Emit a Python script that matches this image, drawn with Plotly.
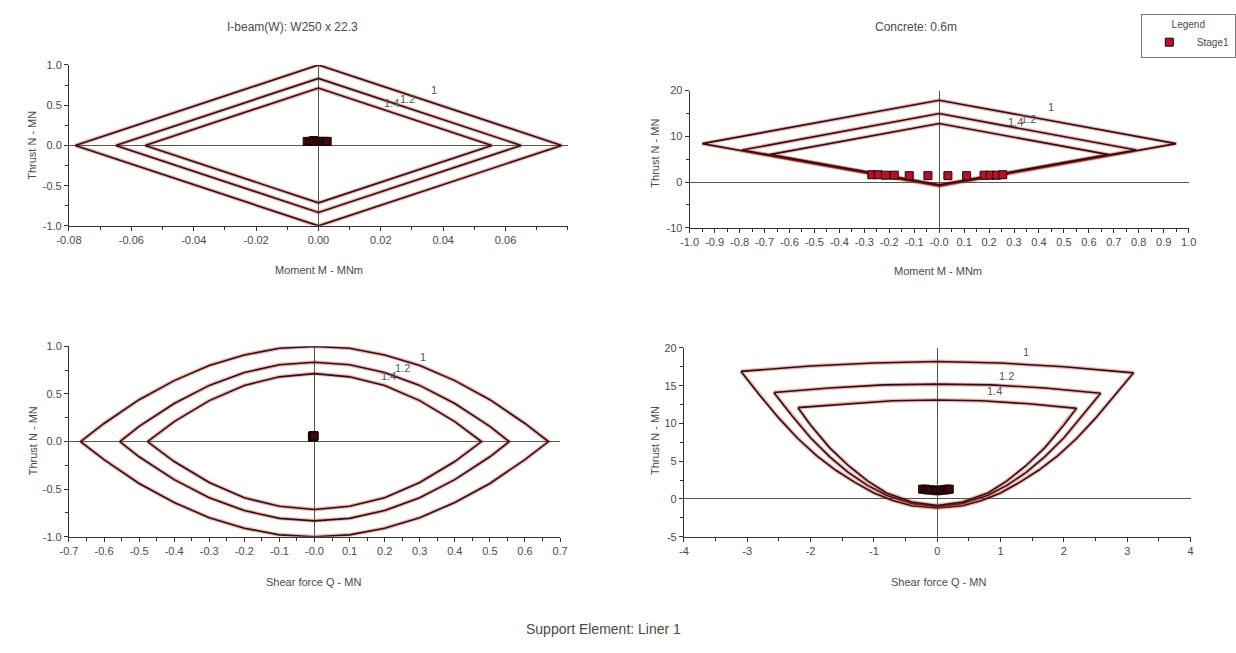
import plotly.graph_objects as go

# ---------------- data ----------------
# Top-left: I-beam, Moment vs Thrust (FS = 1, 1.2, 1.4)
tl_M_1 = [-0.078, 0.0, 0.078, 0.0, -0.078]
tl_N_1 = [0.0, 1.0, 0.0, -1.0, 0.0]
tl_M_12 = [-0.065, 0.0, 0.065, 0.0, -0.065]
tl_N_12 = [0.0, 0.833, 0.0, -0.833, 0.0]
tl_M_14 = [-0.0556, 0.0, 0.0556, 0.0, -0.0556]
tl_N_14 = [0.0, 0.714, 0.0, -0.714, 0.0]

# Top-right: Concrete, Moment vs Thrust
tr_M_1 = [-0.95, 0.0, 0.95, 0.0, -0.95]
tr_N_1 = [8.4, 17.9, 8.4, -0.86, 8.4]
tr_M_12 = [-0.79, 0.0, 0.79, 0.0, -0.79]
tr_N_12 = [7.0, 15.0, 7.0, -0.72, 7.0]
tr_M_14 = [-0.68, 0.0, 0.68, 0.0, -0.68]
tr_N_14 = [6.0, 12.8, 6.0, -0.61, 6.0]

# Bottom-left: I-beam, Shear vs Thrust
bl_Q_1 = [-0.667, -0.6, -0.5, -0.4, -0.3, -0.2, -0.1, 0.0, 0.1, 0.2, 0.3, 0.4, 0.5, 0.6, 0.667,
          0.6, 0.5, 0.4, 0.3, 0.2, 0.1, 0.0, -0.1, -0.2, -0.3, -0.4, -0.5, -0.6, -0.667]
bl_N_1 = [0.0, 0.19, 0.44, 0.64, 0.80, 0.91, 0.98, 1.0, 0.98, 0.91, 0.80, 0.64, 0.44, 0.19, 0.0,
          -0.19, -0.44, -0.64, -0.80, -0.91, -0.98, -1.0, -0.98, -0.91, -0.80, -0.64, -0.44, -0.19, 0.0]
bl_Q_12 = [-0.555, -0.5, -0.4, -0.3, -0.2, -0.1, 0.0, 0.1, 0.2, 0.3, 0.4, 0.5, 0.555,
           0.5, 0.4, 0.3, 0.2, 0.1, 0.0, -0.1, -0.2, -0.3, -0.4, -0.5, -0.555]
bl_N_12 = [0.0, 0.16, 0.40, 0.59, 0.725, 0.807, 0.833, 0.807, 0.725, 0.59, 0.40, 0.16, 0.0,
           -0.16, -0.40, -0.59, -0.725, -0.807, -0.833, -0.807, -0.725, -0.59, -0.40, -0.16, 0.0]
bl_Q_14 = [-0.476, -0.4, -0.3, -0.2, -0.1, 0.0, 0.1, 0.2, 0.3, 0.4, 0.476,
           0.4, 0.3, 0.2, 0.1, 0.0, -0.1, -0.2, -0.3, -0.4, -0.476]
bl_N_14 = [0.0, 0.21, 0.43, 0.59, 0.68, 0.714, 0.68, 0.59, 0.43, 0.21, 0.0,
           -0.21, -0.43, -0.59, -0.68, -0.714, -0.68, -0.59, -0.43, -0.21, 0.0]

# Bottom-right: Concrete, Shear vs Thrust
br_Q_1 = [-3.10, -2.80, -2.50, -2.20, -1.90, -1.60, -1.30, -1.00, -0.70, -0.40, 0.00, 0.40, 0.70,
          1.00, 1.30, 1.60, 1.90, 2.20, 2.50, 2.80, 3.10, 2.00, 1.00, 0.00, -1.00, -2.00, -3.10]
br_N_1 = [16.9, 13.7, 10.7, 8.0, 5.7, 3.8, 2.2, 0.8, -0.2, -0.9, -1.2, -0.9, -0.2,
          0.8, 2.2, 3.8, 5.7, 8.0, 10.7, 13.7, 16.7, 17.5, 18.0, 18.2, 18.0, 17.6, 16.9]
br_Q_12 = [-2.58, -2.30, -2.00, -1.70, -1.40, -1.10, -0.80, -0.40, 0.00, 0.40, 0.80, 1.10,
           1.40, 1.70, 2.00, 2.30, 2.58, 1.70, 0.85, 0.00, -0.85, -1.70, -2.58]
br_N_12 = [14.1, 11.1, 8.1, 5.6, 3.5, 1.8, 0.5, -0.6, -1.0, -0.6, 0.5, 1.8,
           3.5, 5.6, 8.1, 11.1, 14.0, 14.7, 15.1, 15.2, 15.1, 14.7, 14.1]
br_Q_14 = [-2.20, -2.00, -1.70, -1.40, -1.10, -0.80, -0.40, 0.00, 0.40, 0.80, 1.10, 1.40,
           1.70, 2.00, 2.20, 1.45, 0.70, 0.00, -0.70, -1.45, -2.20]
br_N_14 = [12.1, 9.8, 6.8, 4.4, 2.4, 0.8, -0.4, -0.86, -0.4, 0.8, 2.4, 4.4,
           6.8, 9.8, 12.0, 12.6, 13.0, 13.1, 13.0, 12.6, 12.1]

# Stage1 points
steel_M = [-0.0036, -0.0026, -0.0016, -0.0006, 0.0004, 0.0014, 0.0022, 0.0028]
steel_N_M = [0.05, 0.05, 0.06, 0.05, 0.05, 0.05, 0.05, 0.05]
steel_Q = [-0.006, -0.005, -0.004, -0.004, -0.003, -0.003, -0.002, -0.001]
steel_N_Q = [0.05, 0.06, 0.06, 0.05, 0.05, 0.06, 0.05, 0.06]
conc_M = [-0.27, -0.245, -0.215, -0.18, -0.12, -0.045, 0.035, 0.11, 0.18, 0.205, 0.23, 0.255]
conc_N_M = [1.6, 1.6, 1.5, 1.5, 1.4, 1.4, 1.4, 1.4, 1.5, 1.5, 1.5, 1.6]
conc_Q = [-0.23, -0.19, -0.15, -0.11, -0.06, -0.02, 0.02, 0.06, 0.10, 0.13, 0.16, 0.19]
conc_N_Q = [1.3, 1.3, 1.2, 1.2, 1.2, 1.1, 1.1, 1.2, 1.2, 1.2, 1.3, 1.3]

# curve labels (factor of safety)
fs_labels = ["1", "1.2", "1.4"]
tl_lab_x = [0.0369, 0.0285, 0.0235]
tl_lab_y = [0.69, 0.58, 0.53]
tr_lab_x = [0.45, 0.36, 0.305]
tr_lab_y = [16.4, 13.9, 13.1]
bl_lab_x = [0.309, 0.25, 0.21]
bl_lab_y = [0.89, 0.77, 0.69]
br_lab_x = [1.40, 1.09, 0.91]
br_lab_y = [19.4, 16.3, 14.3]

titles = ["I-beam(W): W250 x 22.3", "Concrete: 0.6m"]
main_title = "Support Element: Liner 1"

# ---------------- figure ----------------
fig = go.Figure()
TXT = "#4a4a4a"
FONT = "Liberation Sans, Arial, sans-serif"


def envelope(x, y, xa, ya):
    fig.add_trace(go.Scatter(x=x, y=y, mode="lines", xaxis=xa, yaxis=ya, showlegend=False,
                             hoverinfo="skip",
                             line=dict(color="rgba(215,40,40,0.35)", width=4)))
    fig.add_trace(go.Scatter(x=x, y=y, mode="lines", xaxis=xa, yaxis=ya, showlegend=False,
                             line=dict(color="#2b1212", width=1.6)))


envelope(tl_M_1, tl_N_1, "x", "y")
envelope(tl_M_12, tl_N_12, "x", "y")
envelope(tl_M_14, tl_N_14, "x", "y")
envelope(tr_M_1, tr_N_1, "x2", "y2")
envelope(tr_M_12, tr_N_12, "x2", "y2")
envelope(tr_M_14, tr_N_14, "x2", "y2")
envelope(bl_Q_1, bl_N_1, "x3", "y3")
envelope(bl_Q_12, bl_N_12, "x3", "y3")
envelope(bl_Q_14, bl_N_14, "x3", "y3")
envelope(br_Q_1, br_N_1, "x4", "y4")
envelope(br_Q_12, br_N_12, "x4", "y4")
envelope(br_Q_14, br_N_14, "x4", "y4")

mk = dict(symbol="square", size=8, color="#b5122c", line=dict(color="#220000", width=1))
mk_dark = dict(symbol="square", size=8, color="#3a0a10", line=dict(color="#150000", width=1))
fig.add_trace(go.Scatter(x=steel_M, y=steel_N_M, mode="markers", xaxis="x", yaxis="y",
                         name="Stage1", legendgroup="s1", showlegend=False, marker=mk_dark))
fig.add_trace(go.Scatter(x=conc_M, y=conc_N_M, mode="markers", xaxis="x2", yaxis="y2",
                         name="Stage1", legendgroup="s1", showlegend=True, marker=mk))
fig.add_trace(go.Scatter(x=steel_Q, y=steel_N_Q, mode="markers", xaxis="x3", yaxis="y3",
                         name="Stage1", legendgroup="s1", showlegend=False, marker=mk_dark))
fig.add_trace(go.Scatter(x=conc_Q, y=conc_N_Q, mode="markers", xaxis="x4", yaxis="y4",
                         name="Stage1", legendgroup="s1", showlegend=False, marker=mk_dark))


def axis(domain, rng, tickvals, ticktext, minor_dtick, anchor):
    return dict(domain=domain, range=rng, autorange=False, anchor=anchor,
                tickmode="array", tickvals=tickvals, ticktext=ticktext,
                showline=True, linecolor="#333", linewidth=1,
                ticks="outside", ticklen=4, tickcolor="#333",
                minor=dict(ticks="outside", ticklen=3, tickcolor="#333", dtick=minor_dtick,
                           tick0=rng[0]),
                showgrid=False, zeroline=True, zerolinecolor="#555", zerolinewidth=1,
                tickfont=dict(size=11, color=TXT, family=FONT), fixedrange=True)


tl_xt = [-0.08, -0.06, -0.04, -0.02, 0.0, 0.02, 0.04, 0.06]
tl_xl = ["-0.08", "-0.06", "-0.04", "-0.02", "0.00", "0.02", "0.04", "0.06"]
n_yt = [-1.0, -0.5, 0.0, 0.5, 1.0]
n_yl = ["-1.0", "-0.5", "0.0", "0.5", "1.0"]
tr_xt = [-1.0, -0.9, -0.8, -0.7, -0.6, -0.5, -0.4, -0.3, -0.2, -0.1, 0.0,
         0.1, 0.2, 0.3, 0.4, 0.5, 0.6, 0.7, 0.8, 0.9, 1.0]
tr_xl = ["-1.0", "-0.9", "-0.8", "-0.7", "-0.6", "-0.5", "-0.4", "-0.3", "-0.2", "-0.1", "-0.0",
         "0.1", "0.2", "0.3", "0.4", "0.5", "0.6", "0.7", "0.8", "0.9", "1.0"]
tr_yt = [-10, 0, 10, 20]
tr_yl = ["-10", "0", "10", "20"]
bl_xt = [-0.7, -0.6, -0.5, -0.4, -0.3, -0.2, -0.1, 0.0, 0.1, 0.2, 0.3, 0.4, 0.5, 0.6, 0.7]
bl_xl = ["-0.7", "-0.6", "-0.5", "-0.4", "-0.3", "-0.2", "-0.1", "-0.0",
         "0.1", "0.2", "0.3", "0.4", "0.5", "0.6", "0.7"]
br_xt = [-4, -3, -2, -1, 0, 1, 2, 3, 4]
br_xl = ["-4", "-3", "-2", "-1", "0", "1", "2", "3", "4"]
br_yt = [-5, 0, 5, 10, 15, 20]
br_yl = ["-5", "0", "5", "10", "15", "20"]

fig.update_layout(
    width=1236, height=653, margin=dict(l=0, r=0, t=0, b=0),
    paper_bgcolor="white", plot_bgcolor="white",
    font=dict(family=FONT, color=TXT, size=11),
    xaxis=axis([0.0461, 0.4571], [-0.08, 0.08], tl_xt, tl_xl, 0.01, "y"),
    yaxis=axis([0.657, 0.908], [-1.0, 1.0], n_yt, n_yl, 0.25, "x"),
    xaxis2=axis([0.5574, 0.9684], [-1.0, 1.0], tr_xt, tr_xl, 0.05, "y2"),
    yaxis2=axis([0.654, 0.868], [-10, 20], tr_yt, tr_yl, 5, "x2"),
    xaxis3=axis([0.0461, 0.4506], [-0.7, 0.7], bl_xt, bl_xl, 0.05, "y3"),
    yaxis3=axis([0.172, 0.469], [-1.0, 1.0], n_yt, n_yl, 0.25, "x3"),
    xaxis4=axis([0.5526, 0.970], [-4, 4], br_xt, br_xl, 0.5, "y4"),
    yaxis4=axis([0.172, 0.4666], [-5, 20], br_yt, br_yl, 2.5, "x4"),
    legend=dict(x=0.929, y=0.988, xanchor="left", yanchor="top",
                bordercolor="#777", borderwidth=1, bgcolor="white",
                title=dict(text="Legend", side="top center", font=dict(size=10, color=TXT)),
                font=dict(size=10, color=TXT, family=FONT), itemwidth=45),
)

ann = []
# curve labels
for labs, xs, ys, xr, yr in [(fs_labels, tl_lab_x, tl_lab_y, "x", "y"),
                            (fs_labels, tr_lab_x, tr_lab_y, "x2", "y2"),
                            (fs_labels, bl_lab_x, bl_lab_y, "x3", "y3"),
                            (fs_labels, br_lab_x, br_lab_y, "x4", "y4")]:
    for t, xv, yv in zip(labs, xs, ys):
        ann.append(dict(text=t, x=xv, y=yv, xref=xr, yref=yr, showarrow=False,
                        font=dict(size=11, color="#555")))


# axis titles and panel titles (paper coords)
def ptxt(text, x, y, size=11, angle=0):
    ann.append(dict(text=text, x=x, y=y, xref="paper", yref="paper", showarrow=False,
                    textangle=angle, xanchor="center", yanchor="middle",
                    font=dict(size=size, color=TXT, family=FONT)))


ptxt(titles[0], 0.2305, 0.968, size=12)
ptxt(titles[1], 0.744, 0.968, size=12)
ptxt("Moment M - MNm", 0.2524, 0.588)
ptxt("Moment M - MNm", 0.762, 0.5865)
ptxt("Shear force Q - MN", 0.2476, 0.1016)
ptxt("Shear force Q - MN", 0.762, 0.1016)
ptxt("Thrust N - MN", 0.016, 0.7825, angle=-90)
ptxt("Thrust N - MN", 0.529, 0.77, angle=-90)
ptxt("Thrust N - MN", 0.016, 0.3216, angle=-90)
ptxt("Thrust N - MN", 0.529, 0.3216, angle=-90)
ptxt(main_title, 0.486, 0.028, size=14)

fig.update_layout(annotations=ann)

fig.write_html("out.html", post_script="document.body.style.margin='0';",
               config={"displayModeBar": False})
